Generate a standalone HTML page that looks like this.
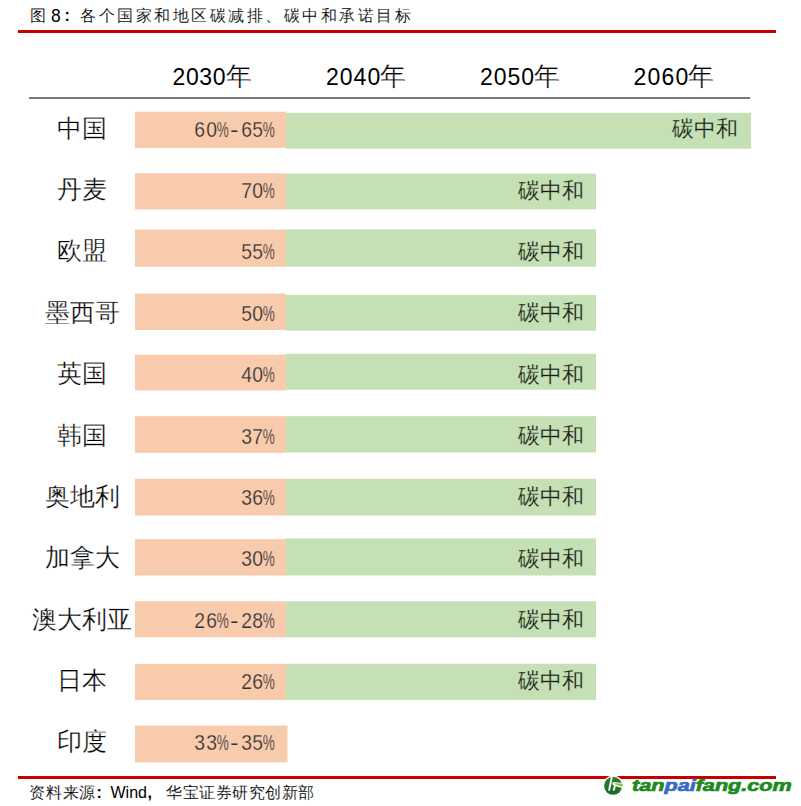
<!DOCTYPE html>
<html><head><meta charset="utf-8">
<style>
*{margin:0;padding:0;box-sizing:border-box}
html,body{width:801px;height:806px;background:#fff;overflow:hidden}
body{position:relative;font-family:"Liberation Sans",sans-serif;color:#000}
svg.bg{position:absolute;left:0;top:0}
.t{position:absolute;white-space:nowrap;line-height:20px;font-size:16px;color:#000}
.cj{-webkit-text-stroke:0.12px #fff}
.yr{position:absolute;top:62px;font-size:23px;line-height:30px;color:#000;white-space:nowrap;display:flex;justify-content:space-between}
.nian{position:absolute;top:61px;font-size:26px;line-height:30px;color:#000;white-space:nowrap;-webkit-text-stroke:0.3px #fff}
.row{position:absolute;left:0;width:801px;height:36px}
.lab{position:absolute;left:0;width:164px;top:-2px;height:36px;line-height:36px;text-align:center;font-size:25px;color:#000;white-space:nowrap;-webkit-text-stroke:0.3px #fff}
.pct{position:absolute;left:0;width:274.5px;top:0px;height:36px;line-height:36px;font-size:22.5px;color:#333;white-space:nowrap;display:flex;justify-content:flex-end;-webkit-text-stroke:0.25px #f8cbad}
.g{font-style:normal;display:block;position:relative;height:36px;flex:none}
.g b{font-weight:normal;display:block;position:absolute;left:-10px;right:-10px;text-align:center}
.gd{width:11.15px} .gd b{transform:scaleX(0.86)}
.gp{width:11.5px} .gp b{transform:scaleX(0.6)}
.gh{width:12.5px} .gh b{transform:scaleX(1.15)}
.cz{position:absolute;left:0;width:584px;top:-0.5px;height:36px;line-height:36px;text-align:right;font-size:21.5px;color:#1a1a1a;white-space:nowrap;-webkit-text-stroke:0.2px #c5e0b4}
.wm{position:absolute;left:631.5px;top:776px;font-weight:bold;font-style:italic;font-size:16.5px;line-height:18px;white-space:nowrap;transform-origin:left center;transform:scaleX(1.31);color:#1d8a1d;-webkit-text-stroke:0.7px #1d8a1d}
.wm b{color:#3a6bbf;font-weight:bold;-webkit-text-stroke:0.7px #3a6bbf}
.logo{position:absolute;left:600px;top:774px;width:26px;height:26px}
</style></head><body>
<svg class="bg" width="801" height="806" viewBox="0 0 801 806">
<rect x="18" y="30" width="758" height="3" fill="#c80000"/>
<rect x="29" y="97" width="721" height="2" fill="#787878"/>
<rect x="135" y="111.7" width="151" height="36.20" fill="#f8cbad"/>
<rect x="286" y="112.8" width="465" height="35.90" fill="#c5e0b4"/>
<rect x="135" y="173.3" width="151" height="36.10" fill="#f8cbad"/>
<rect x="286" y="173.6" width="310" height="35.80" fill="#c5e0b4"/>
<rect x="135" y="229.5" width="151" height="37.20" fill="#f8cbad"/>
<rect x="286" y="229.3" width="310" height="37.40" fill="#c5e0b4"/>
<rect x="135" y="293.5" width="151" height="36.50" fill="#f8cbad"/>
<rect x="286" y="294.9" width="310" height="35.80" fill="#c5e0b4"/>
<rect x="135" y="354.7" width="151" height="35.70" fill="#f8cbad"/>
<rect x="286" y="353.8" width="310" height="35.90" fill="#c5e0b4"/>
<rect x="135" y="416.2" width="151" height="36.70" fill="#f8cbad"/>
<rect x="286" y="416.2" width="310" height="36.20" fill="#c5e0b4"/>
<rect x="135" y="478.8" width="151" height="36.70" fill="#f8cbad"/>
<rect x="286" y="478.8" width="310" height="36.70" fill="#c5e0b4"/>
<rect x="135" y="539.1" width="151" height="36.40" fill="#f8cbad"/>
<rect x="286" y="538.4" width="310" height="37.10" fill="#c5e0b4"/>
<rect x="135" y="601.3" width="151" height="36.00" fill="#f8cbad"/>
<rect x="286" y="601.3" width="310" height="36.00" fill="#c5e0b4"/>
<rect x="135" y="663.8" width="151" height="36.10" fill="#f8cbad"/>
<rect x="286" y="663.8" width="310" height="36.10" fill="#c5e0b4"/>
<rect x="135" y="725.5" width="152.5" height="36.90" fill="#f8cbad"/>
<rect x="18" y="776" width="758" height="3" fill="#c80000"/>
</svg>
<div class="t cj" style="left:30px;top:6px">图</div>
<div class="t" style="left:51px;top:5.8px;font-size:17.5px">8</div>
<div class="t" style="left:64.5px;top:6px;font-weight:bold">:</div>
<div class="t cj" style="left:80px;top:6px;letter-spacing:2.53px">各个国家和地区碳减排、碳中和承诺目标</div>
<div class="yr" style="left:172.5px;width:53.1px"><span>2</span><span>0</span><span>3</span><span>0</span></div>
<div class="nian" style="left:225.9px">年</div>
<div class="yr" style="left:326.0px;width:54.2px"><span>2</span><span>0</span><span>4</span><span>0</span></div>
<div class="nian" style="left:379.7px">年</div>
<div class="yr" style="left:479.9px;width:54.1px"><span>2</span><span>0</span><span>5</span><span>0</span></div>
<div class="nian" style="left:533.8px">年</div>
<div class="yr" style="left:633.5px;width:54.8px"><span>2</span><span>0</span><span>6</span><span>0</span></div>
<div class="nian" style="left:687.5px">年</div>
<div class="row" style="top:111.70px">
<div class="lab">中国</div>
<div class="pct"><i class="g gd"><b>6</b></i><i class="g gd"><b>0</b></i><i class="g gp"><b>%</b></i><i class="g gh"><b>-</b></i><i class="g gd"><b>6</b></i><i class="g gd"><b>5</b></i><i class="g gp"><b>%</b></i></div>
<div class="cz" style="width:737.8px">碳中和</div>
</div>
<div class="row" style="top:173.06px">
<div class="lab">丹麦</div>
<div class="pct"><i class="g gd"><b>7</b></i><i class="g gd"><b>0</b></i><i class="g gp"><b>%</b></i></div>
<div class="cz">碳中和</div>
</div>
<div class="row" style="top:234.42px">
<div class="lab">欧盟</div>
<div class="pct"><i class="g gd"><b>5</b></i><i class="g gd"><b>5</b></i><i class="g gp"><b>%</b></i></div>
<div class="cz">碳中和</div>
</div>
<div class="row" style="top:295.78px">
<div class="lab">墨西哥</div>
<div class="pct"><i class="g gd"><b>5</b></i><i class="g gd"><b>0</b></i><i class="g gp"><b>%</b></i></div>
<div class="cz">碳中和</div>
</div>
<div class="row" style="top:357.14px">
<div class="lab">英国</div>
<div class="pct"><i class="g gd"><b>4</b></i><i class="g gd"><b>0</b></i><i class="g gp"><b>%</b></i></div>
<div class="cz">碳中和</div>
</div>
<div class="row" style="top:418.50px">
<div class="lab">韩国</div>
<div class="pct"><i class="g gd"><b>3</b></i><i class="g gd"><b>7</b></i><i class="g gp"><b>%</b></i></div>
<div class="cz">碳中和</div>
</div>
<div class="row" style="top:479.86px">
<div class="lab">奥地利</div>
<div class="pct"><i class="g gd"><b>3</b></i><i class="g gd"><b>6</b></i><i class="g gp"><b>%</b></i></div>
<div class="cz">碳中和</div>
</div>
<div class="row" style="top:541.22px">
<div class="lab">加拿大</div>
<div class="pct"><i class="g gd"><b>3</b></i><i class="g gd"><b>0</b></i><i class="g gp"><b>%</b></i></div>
<div class="cz">碳中和</div>
</div>
<div class="row" style="top:602.58px">
<div class="lab">澳大利亚</div>
<div class="pct"><i class="g gd"><b>2</b></i><i class="g gd"><b>6</b></i><i class="g gp"><b>%</b></i><i class="g gh"><b>-</b></i><i class="g gd"><b>2</b></i><i class="g gd"><b>8</b></i><i class="g gp"><b>%</b></i></div>
<div class="cz">碳中和</div>
</div>
<div class="row" style="top:663.94px">
<div class="lab">日本</div>
<div class="pct"><i class="g gd"><b>2</b></i><i class="g gd"><b>6</b></i><i class="g gp"><b>%</b></i></div>
<div class="cz">碳中和</div>
</div>
<div class="row" style="top:725.30px">
<div class="lab">印度</div>
<div class="pct"><i class="g gd"><b>3</b></i><i class="g gd"><b>3</b></i><i class="g gp"><b>%</b></i><i class="g gh"><b>-</b></i><i class="g gd"><b>3</b></i><i class="g gd"><b>5</b></i><i class="g gp"><b>%</b></i></div>
</div>
<div class="t cj" style="left:29px;top:783px;letter-spacing:0.75px">资料来源</div>
<div class="t" style="left:96.5px;top:783px;font-weight:bold">:</div>
<div class="t" style="left:110.5px;top:783px">Wind</div>
<div class="t" style="left:147.5px;top:783px;font-weight:bold">,</div>
<div class="t cj" style="left:166px;top:783px;letter-spacing:0.55px">华宝证券研究创新部</div>
<div class="logo"><svg width="26" height="26" viewBox="0 0 26 26"><defs><linearGradient id="lg" x1="0" y1="0" x2="0" y2="1"><stop offset="0" stop-color="#2f7f2f"/><stop offset="1" stop-color="#1c6a22"/></linearGradient></defs><circle cx="13.1" cy="11.8" r="10.3" fill="#fff"/><circle cx="13.1" cy="11.8" r="9" fill="url(#lg)"/><path d="M11.9 2.6 L9.0 16.6" stroke="#fff" stroke-width="1.9" fill="none"/><path d="M15.6 9.4 L13.6 16.6" stroke="#fff" stroke-width="1.9" fill="none"/><path d="M12.4 8.6 C15.5 7.9 18 9.0 23 9.0 L23 14.2 C19 13.8 15.5 11.6 12.6 11.0 Z" fill="#fff"/><path d="M14.6 9.3 C17 9.1 19 9.7 22.6 9.7 L22.6 12.8 C19.5 12.4 17 10.8 14.6 10.1 Z" fill="#86c440"/></svg></div>
<div class="wm">tan<b>pai</b>fang.com</div>
</body></html>
